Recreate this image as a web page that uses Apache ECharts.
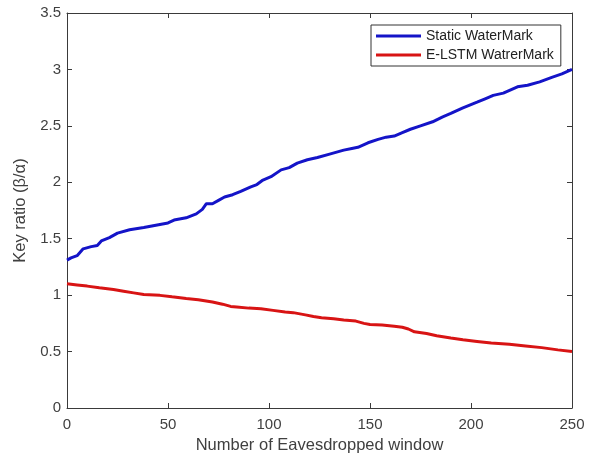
<!DOCTYPE html>
<html>
<head>
<meta charset="utf-8">
<script src="https://cdn.jsdelivr.net/npm/echarts@6/dist/echarts.min.js"></script>
<style>
html,body{margin:0;padding:0;background:#fff;}
#chart{width:593px;height:459px;}
</style>
</head>
<body>
<div id="chart"></div>
<script>
var seriesNames = ['Static WaterMark', 'E-LSTM WatrerMark'];
var xTicks = [0, 50, 100, 150, 200, 250];
var yTicks = [0, 0.5, 1, 1.5, 2, 2.5, 3, 3.5];

var staticX = [0, 2, 5, 8, 12, 15, 17, 21, 25, 31, 38, 44, 50, 53, 59, 64, 67, 69, 72, 75, 78, 82, 86, 91, 94, 97, 101, 106, 110, 114, 119, 124, 130, 137, 141, 144, 149, 154, 158, 162, 166, 170, 175, 181, 186, 190, 196, 203, 207, 211, 216, 223, 228, 234, 240, 245, 250];
var staticY = [1.31, 1.33, 1.35, 1.41, 1.43, 1.44, 1.48, 1.51, 1.55, 1.58, 1.60, 1.62, 1.64, 1.665, 1.685, 1.72, 1.76, 1.81, 1.81, 1.84, 1.87, 1.89, 1.92, 1.96, 1.98, 2.02, 2.05, 2.11, 2.13, 2.17, 2.20, 2.22, 2.25, 2.285, 2.30, 2.31, 2.35, 2.38, 2.40, 2.41, 2.44, 2.47, 2.50, 2.536, 2.58, 2.61, 2.66, 2.71, 2.74, 2.77, 2.79, 2.846, 2.86, 2.89, 2.93, 2.96, 3.00];

var lstmX = [0, 5, 10, 16, 23, 28, 33, 38, 46, 52, 59, 65, 72, 77, 81, 84, 90, 96, 102, 108, 112, 118, 122, 126, 132, 137, 143, 147, 150, 156, 162, 166, 169, 172, 178, 183, 190, 196, 203, 210, 219, 227, 235, 243, 250];
var lstmY = [1.10, 1.09, 1.08, 1.065, 1.05, 1.035, 1.02, 1.005, 0.998, 0.985, 0.97, 0.96, 0.94, 0.92, 0.90, 0.895, 0.885, 0.88, 0.865, 0.85, 0.845, 0.825, 0.81, 0.80, 0.79, 0.78, 0.77, 0.75, 0.74, 0.735, 0.725, 0.715, 0.70, 0.675, 0.66, 0.64, 0.62, 0.605, 0.59, 0.575, 0.565, 0.55, 0.535, 0.515, 0.50];

function pairs(xs, ys) { return xs.map(function (x, i) { return [x, ys[i]]; }); }

var FONT = '"Liberation Sans", Arial, Helvetica, sans-serif';
var AX = '#3a3a3a';
var TXT = '#404040';

var chart = echarts.init(document.getElementById('chart'), null, {renderer: 'canvas'});
chart.setOption({
  backgroundColor: '#ffffff',
  animation: false,
  textStyle: {fontFamily: FONT},
  grid: {left: 67, right: 21, top: 13, bottom: 51, containLabel: false},
  legend: {
    data: seriesNames,
    orient: 'vertical',
    left: 371,
    top: 25,
    icon: 'rect',
    itemWidth: 45,
    itemHeight: 3,
    itemGap: 5,
    padding: [4, 7, 4, 5],
    borderColor: '#333',
    borderWidth: 1,
    backgroundColor: '#fff',
    textStyle: {fontSize: 14, color: '#222', fontFamily: FONT}
  },
  xAxis: [{
    type: 'value', min: xTicks[0], max: xTicks[xTicks.length - 1], interval: 50,
    name: 'Number of Eavesdropped window', nameLocation: 'middle', nameGap: 29,
    nameTextStyle: {fontSize: 16.5, color: TXT, fontFamily: FONT},
    axisLine: {show: true, lineStyle: {color: AX, width: 1}},
    axisTick: {show: true, inside: true, length: 5, lineStyle: {color: AX}},
    axisLabel: {fontSize: 15, color: TXT, margin: 9, fontFamily: FONT},
    splitLine: {show: false}
  }, {
    type: 'value', position: 'top', min: xTicks[0], max: xTicks[xTicks.length - 1], interval: 50,
    axisLine: {show: true, onZero: false, lineStyle: {color: AX, width: 1}},
    axisTick: {show: true, inside: true, length: 5, lineStyle: {color: AX}},
    axisLabel: {show: false}, splitLine: {show: false}
  }],
  yAxis: [{
    type: 'value', min: yTicks[0], max: yTicks[yTicks.length - 1], interval: 0.5,
    name: 'Key ratio (β/α)', nameLocation: 'middle', nameGap: 31,
    nameTextStyle: {fontSize: 16.5, color: TXT, fontFamily: FONT},
    axisLine: {show: true, lineStyle: {color: AX, width: 1}},
    axisTick: {show: true, inside: true, length: 5, lineStyle: {color: AX}},
    axisLabel: {fontSize: 15, color: TXT, margin: 6, fontFamily: FONT},
    splitLine: {show: false}
  }, {
    type: 'value', position: 'right', min: yTicks[0], max: yTicks[yTicks.length - 1], interval: 0.5,
    axisLine: {show: true, onZero: false, lineStyle: {color: AX, width: 1}},
    axisTick: {show: true, inside: true, length: 5, lineStyle: {color: AX}},
    axisLabel: {show: false}, splitLine: {show: false}
  }],
  series: [{
    name: seriesNames[0], type: 'line', data: pairs(staticX, staticY),
    showSymbol: false, symbol: 'none',
    lineStyle: {color: '#1414c8', width: 3}, itemStyle: {color: '#1414c8'}
  }, {
    name: seriesNames[1], type: 'line', data: pairs(lstmX, lstmY),
    showSymbol: false, symbol: 'none',
    lineStyle: {color: '#d81414', width: 3}, itemStyle: {color: '#d81414'}
  }]
});
</script>
</body>
</html>
